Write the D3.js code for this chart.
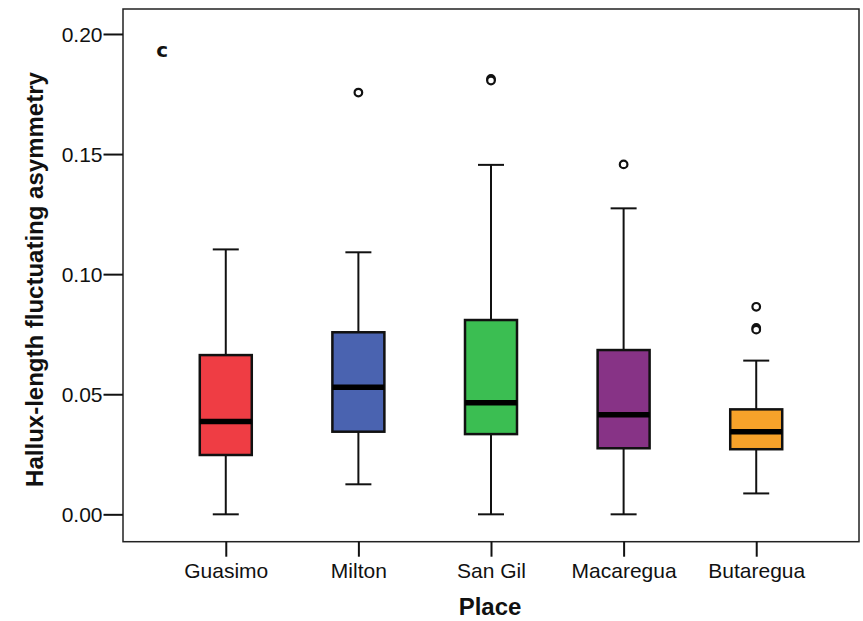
<!DOCTYPE html>
<html>
<head>
<meta charset="utf-8">
<script src="https://cdn.jsdelivr.net/npm/d3@7/dist/d3.min.js"></script>
<style>
  html, body { margin: 0; padding: 0; background: #fff; }
  svg { display: block; }
  text { font-family: Arial, "Liberation Sans", sans-serif; fill: #111; }
</style>
</head>
<body>
<svg id="chart" width="863" height="621"></svg>
<script>
// Hallux-length fluctuating asymmetry by place (box plot summaries)
const categories  = ["Guasimo", "Milton", "San Gil", "Macaregua", "Butaregua"];
const whiskerLow  = [0.0000, 0.0125, 0.0000, 0.0000, 0.0087];
const q1          = [0.0247, 0.0344, 0.0334, 0.0275, 0.0271];
const medians     = [0.0386, 0.0529, 0.0465, 0.0415, 0.0344];
const q3          = [0.0663, 0.0758, 0.0809, 0.0684, 0.0437];
const whiskerHigh = [0.1103, 0.1091, 0.1455, 0.1274, 0.0640];
const outliers    = [[], [0.1756], [0.1813, 0.1806], [0.1457], [0.0864, 0.0776, 0.0769]];
const fills       = ["#ef3d44", "#4a63b0", "#3bbe52", "#873386", "#f7a22a"];
const yTicks      = [0.00, 0.05, 0.10, 0.15, 0.20];
const extreme     = { category: "Guasimo", value: 0.1929, label: "c" };

const svg = d3.select("#chart");
const plot = { left: 123, right: 859, top: 9, bottom: 541.7 };

const x = d3.scalePoint()
  .domain(categories)
  .range([plot.left, plot.right])
  .padding(0.775);

const y = d3.scaleLinear()
  .domain([-0.0114, 0.2104])
  .range([plot.bottom, plot.top]);

const boxes = categories.map((c, i) => ({
  name: c, lo: whiskerLow[i], q1: q1[i], med: medians[i], q3: q3[i],
  hi: whiskerHigh[i], out: outliers[i], fill: fills[i]
}));

// Frame
svg.append("rect")
  .attr("x", plot.left).attr("y", plot.top)
  .attr("width", plot.right - plot.left).attr("height", plot.bottom - plot.top)
  .attr("fill", "none").attr("stroke", "#222").attr("stroke-width", 1.5);

// Y axis
const yAxis = d3.axisLeft(y).tickValues(yTicks).tickFormat(d3.format(".2f"))
  .tickSize(19.5).tickPadding(1);
const gy = svg.append("g").attr("transform", `translate(${plot.left},0)`).call(yAxis);
gy.select(".domain").remove();
gy.selectAll(".tick line").attr("stroke", "#111").attr("stroke-width", 2);
gy.selectAll(".tick text").attr("font-size", 21).attr("fill", "#111")
  .attr("dy", "0.34em").style("font-family", "Arial, 'Liberation Sans', sans-serif");

// X axis
const xAxis = d3.axisBottom(x).tickSize(15).tickPadding(7);
const gx = svg.append("g").attr("transform", `translate(0,${plot.bottom})`).call(xAxis);
gx.select(".domain").remove();
gx.selectAll(".tick line").attr("stroke", "#111").attr("stroke-width", 2);
gx.selectAll(".tick text").attr("font-size", 21).attr("fill", "#111")
  .attr("dy", "0.7em").style("font-family", "Arial, 'Liberation Sans', sans-serif");

// Axis titles
svg.append("text")
  .attr("x", 490).attr("y", 615)
  .attr("text-anchor", "middle")
  .attr("font-size", 24).attr("font-weight", "bold")
  .text("Place");

svg.append("text")
  .attr("transform", "translate(43,279.5) rotate(-90)")
  .attr("text-anchor", "middle")
  .attr("font-size", 24).attr("font-weight", "bold")
  .text("Hallux-length fluctuating asymmetry");

// Boxes
const boxHalf = 26, capHalf = 13;
const g = svg.selectAll(".box").data(boxes).enter().append("g").attr("class", "box");

// whiskers
g.append("line")
  .attr("x1", d => x(d.name)).attr("x2", d => x(d.name))
  .attr("y1", d => y(d.hi)).attr("y2", d => y(d.q3))
  .attr("stroke", "#111").attr("stroke-width", 2);
g.append("line")
  .attr("x1", d => x(d.name)).attr("x2", d => x(d.name))
  .attr("y1", d => y(d.q1)).attr("y2", d => y(d.lo))
  .attr("stroke", "#111").attr("stroke-width", 2);
// caps
g.append("line")
  .attr("x1", d => x(d.name) - capHalf).attr("x2", d => x(d.name) + capHalf)
  .attr("y1", d => y(d.hi)).attr("y2", d => y(d.hi))
  .attr("stroke", "#111").attr("stroke-width", 2);
g.append("line")
  .attr("x1", d => x(d.name) - capHalf).attr("x2", d => x(d.name) + capHalf)
  .attr("y1", d => y(d.lo)).attr("y2", d => y(d.lo))
  .attr("stroke", "#111").attr("stroke-width", 2);
// box body
g.append("rect")
  .attr("x", d => x(d.name) - boxHalf).attr("width", boxHalf * 2)
  .attr("y", d => y(d.q3)).attr("height", d => y(d.q1) - y(d.q3))
  .attr("fill", d => d.fill).attr("stroke", "#111").attr("stroke-width", 2.5);
// median
g.append("line")
  .attr("x1", d => x(d.name) - boxHalf).attr("x2", d => x(d.name) + boxHalf)
  .attr("y1", d => y(d.med)).attr("y2", d => y(d.med))
  .attr("stroke", "#000").attr("stroke-width", 5.5);
// outliers
g.selectAll("circle").data(d => d.out.map(v => ({ name: d.name, v }))).enter()
  .append("circle")
  .attr("cx", d => x(d.name)).attr("cy", d => y(d.v))
  .attr("r", 3.8)
  .attr("fill", "#fff").attr("stroke", "#111").attr("stroke-width", 2.2);

// extreme-value marker
svg.append("text")
  .attr("x", x(extreme.category) - 63.5).attr("y", y(extreme.value) + 6)
  .attr("text-anchor", "middle")
  .attr("font-size", 20).attr("font-weight", "bold")
  .style("font-family", "'DejaVu Sans', Verdana, sans-serif")
  .text(extreme.label);
</script>
</body>
</html>
